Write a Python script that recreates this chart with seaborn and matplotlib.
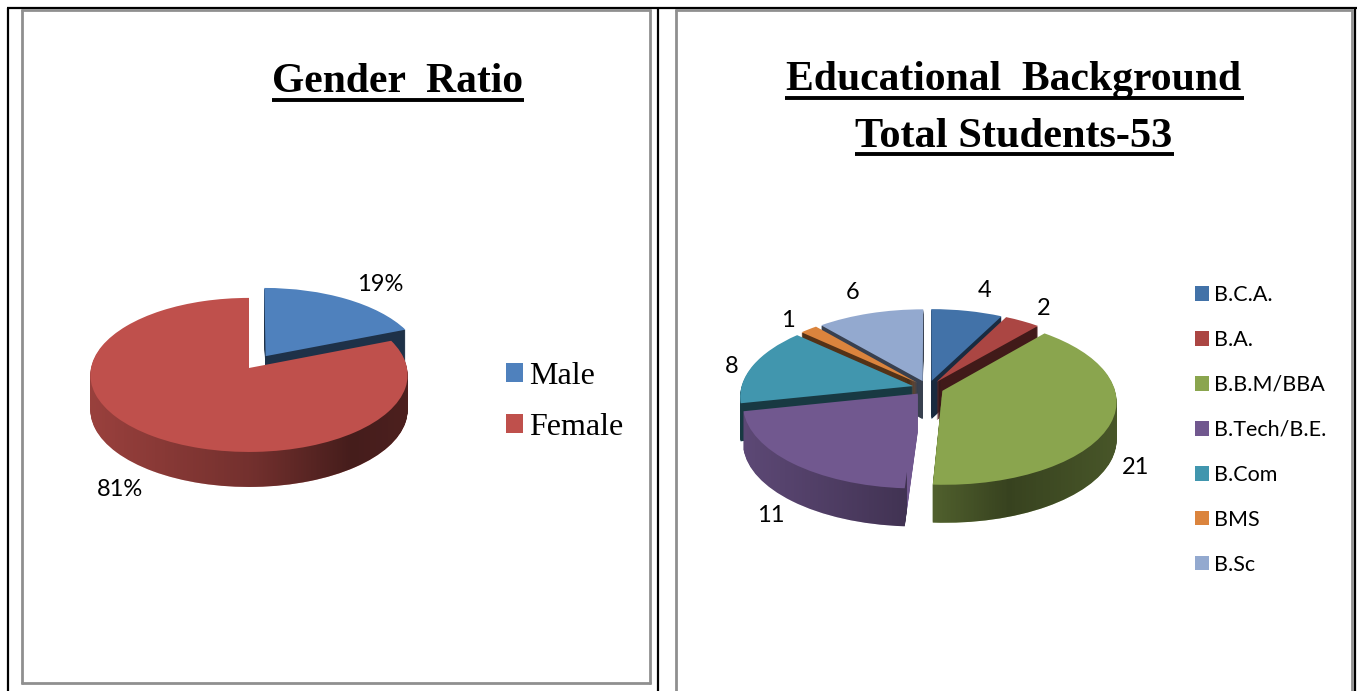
import numpy as np
import matplotlib
matplotlib.use("Agg")
import matplotlib.pyplot as plt
import seaborn as sns
from matplotlib.patches import Patch
from matplotlib.path import Path
from matplotlib.transforms import Affine2D, Bbox, Transform, TransformedBbox

# ---- data ----
gender_labels = ["Male", "Female"]
gender_values = [19, 81]
gender_text = ["19%", "81%"]
edu_labels = ["B.C.A.", "B.A.", "B.B.M/BBA", "B.Tech/B.E.", "B.Com", "BMS", "B.Sc"]
edu_values = [4, 2, 21, 11, 8, 1, 6]
edu_text = ["4", "2", "21", "11", "8", "1", "6"]

# ---- style ----
W, H = 1359, 691
sns.set_theme(style="white")
plt.rcParams["font.family"] = ["Lato", "DejaVu Sans"]
gender_colors = sns.color_palette(["#4f81bd", "#bf504c"])
edu_colors = sns.color_palette(["#4272a8", "#ab4643", "#8aa54e", "#71588f", "#4196ae", "#db843d", "#93a9cf"])

fig = plt.figure(figsize=(W / 100, H / 100), dpi=100, facecolor="white")
ax = fig.add_axes([0, 0, 1, 1])


class Perspective(Transform):
    input_dims = output_dims = 2

    def __init__(self, k):
        super().__init__()
        self.k = k

    def transform_non_affine(self, xy):
        xy = np.asarray(xy, float)
        w = 1 + self.k * xy[:, 1]
        return np.column_stack([xy[:, 0] / w, xy[:, 1] / w])


def pie3d(values, colors, explode, center, rx, ry, k, depth, order, wall_profiles):
    cx, cy = center
    plane = Perspective(k) + Affine2D().scale(rx, ry).translate(cx, H - cy)
    kwargs = dict(colors=colors, explode=explode, startangle=90, counterclock=False,
                  radius=1, wedgeprops=dict(linewidth=0))
    wall_paths = [[] for _ in values]
    for d in range(depth, 0, -1):
        wedges, _ = ax.pie(values, **kwargs)
        for i, w in enumerate(wedges):
            tr = plane + Affine2D().translate(0, -d)
            w.set_transform(tr + ax.transData)
            w.set_zorder(2 + order.index(i))
            xs = wall_profiles[i][0]
            w.set_clip_box(TransformedBbox(Bbox([[xs[0], 0], [xs[-1], H]]), ax.transData))
            wall_paths[i].append(tr.transform_path(w.get_path()))
    wedges, _ = ax.pie(values, **kwargs)
    for i, w in enumerate(wedges):
        w.set_transform(plane + ax.transData)
        w.set_zorder(2 + order.index(i) + 0.5)
    for i, (xs, alphas) in enumerate(wall_profiles):
        grid = np.linspace(xs[0], xs[-1], 200)
        rgba = np.zeros((1, grid.size, 4))
        rgba[..., 3] = np.interp(grid, xs, alphas)
        im = ax.imshow(rgba, extent=(xs[0], xs[-1], 0, H), aspect="auto",
                       interpolation="bilinear", zorder=2 + order.index(i) + 0.2)
        im.set_clip_path(Path.make_compound_path(*wall_paths[i]), ax.transData)


dark = ([0, W], [0.62, 0.62])
pie3d(gender_values, gender_colors, [0.19, 0], (249, 368), 158, 76.4, 0.09, 35, [0, 1],
      [dark, ([0, 90, 250, 350, 410, W], [0.2, 0.2, 0.4, 0.64, 0.6, 0.6])])
pie3d(edu_values, edu_colors, [0.09] * 7, (928, 388), 172, 82, 0.12, 38, [0, 6, 1, 5, 4, 2, 3],
      [dark, dark,
       ([0, 935, 1010, 1118, W], [0.42, 0.42, 0.6, 0.48, 0.48]),
       ([0, 745, 830, 907], [0.18, 0.18, 0.3, 0.42]),
       dark, dark, dark])

ax.set_aspect("auto")
ax.set_xlim(0, W)
ax.set_ylim(0, H)
ax.axis("off")


def line(xs, ys, color, width=2.2):
    ax.plot(xs, [H - y for y in ys], color=color, lw=width, zorder=1, solid_capstyle="butt")


# frames
for xs, ys in [([8, 8], [8, H]), ([658, 658], [8, H]), ([7, 1357], [8, 8]), ([1355, 1355], [8, H])]:
    line(xs, ys, "black", 1.6)
for xs, ys in [([22, 22], [9, 684]), ([650, 650], [9, 684]), ([21, 651], [10, 10]), ([21, 651], [683, 683]),
               ([676, 676], [9, H]), ([675, 1353], [10, 10]), ([1352, 1352], [9, H])]:
    line(xs, ys, "#8f8f8f", 2.0)

# titles
serif = ["Liberation Serif", "DejaVu Serif"]
title = dict(family=serif, fontweight="bold", ha="center", va="baseline", color="black", zorder=10)
ax.text(398, H - 92, "Gender  Ratio", fontsize=30, **title)
line([272, 524], [99.5, 99.5], "black", 2.8)
ax.text(1014, H - 90, "Educational  Background", fontsize=30, **title)
line([785, 1244], [97.5, 97.5], "black", 2.8)
ax.text(1014, H - 147, "Total Students-53", fontsize=30.5, **title)
line([855, 1174], [154, 154], "black", 2.8)

# data labels
gender_pos = [(380, 284), (120, 490)]
edu_pos = [(985, 290), (1044, 308), (1136, 468), (771, 516), (732, 366), (788, 320), (853, 292)]
for s, (x, y) in zip(gender_text + edu_text, gender_pos + edu_pos):
    ax.text(x, H - y, s, fontsize=17, ha="center", va="center", color="black", zorder=10)

# legends
left = ax.legend(handles=[Patch(color=c, label=l, lw=0) for c, l in zip(gender_colors, gender_labels)],
                 loc="upper left", bbox_to_anchor=(506, H - 362), bbox_transform=ax.transData,
                 frameon=False, borderpad=0, borderaxespad=0, handlelength=0.53, handleheight=0.53,
                 handletextpad=0.18, labelspacing=0.675, labelcolor="black",
                 prop=dict(family=serif, size=23))
ax.add_artist(left)
ax.legend(handles=[Patch(color=c, label=l, lw=0) for c, l in zip(edu_colors, edu_labels)],
          loc="upper left", bbox_to_anchor=(1195, H - 285), bbox_transform=ax.transData,
          frameon=False, borderpad=0, borderaxespad=0, handlelength=0.65, handleheight=0.65,
          handletextpad=0.22, labelspacing=1.16, labelcolor="black", prop=dict(size=15.5))

fig.savefig("out.png", dpi=100, facecolor="white")
